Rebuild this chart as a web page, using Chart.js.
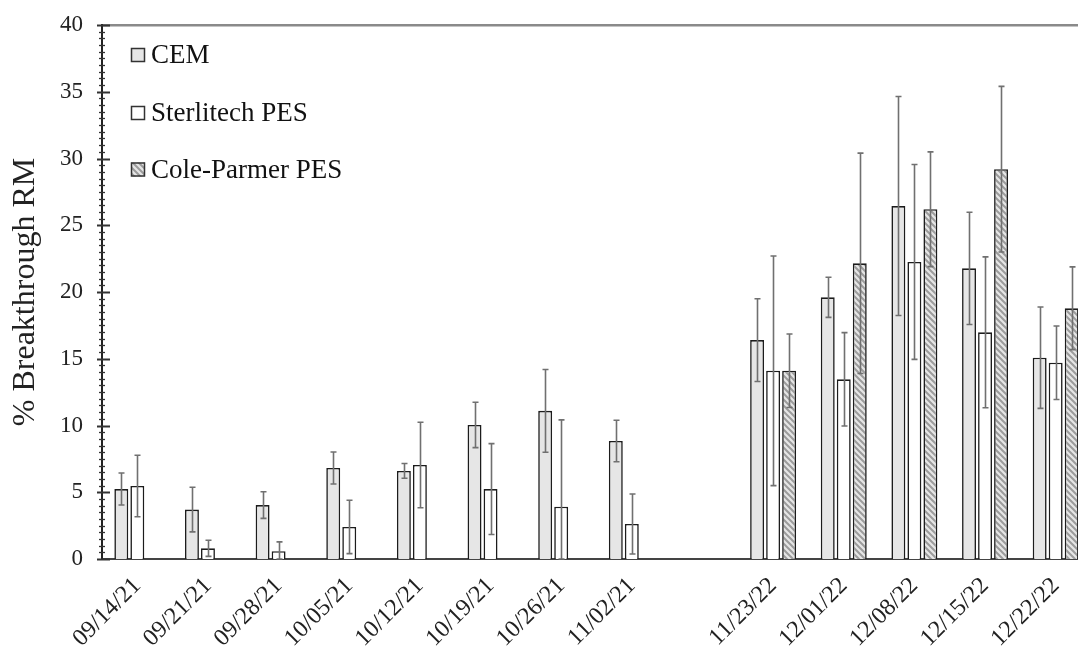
<!DOCTYPE html>
<html>
<head>
<meta charset="utf-8">
<script src="https://cdn.jsdelivr.net/npm/chart.js@4.4.1/dist/chart.umd.min.js"></script>
<style>
  html, body { margin: 0; padding: 0; background: #fff; }
  #wrap { width: 1078px; height: 647px; overflow: hidden; position: relative; }
  canvas { display: block; }
</style>
</head>
<body>
<div id="wrap"><canvas id="c" width="1091" height="647" style="width:1091px;height:647px"></canvas></div>
<script>
// ---- data ----
const categories = ['09/14/21','09/21/21','09/28/21','10/05/21','10/12/21','10/19/21','10/26/21','11/02/21','',
                    '11/23/22','12/01/22','12/08/22','12/15/22','12/22/22'];
const seriesNames = ['CEM', 'Sterlitech PES', 'Cole-Parmer PES'];
const cemValues   = [5.24, 3.7, 4.04, 6.82, 6.6, 10.04, 11.1, 8.84, null, 16.4, 19.6, 26.44, 21.77, 15.08];
const cemErrors   = [1.2, 1.67, 1.0, 1.2, 0.55, 1.7, 3.1, 1.55, null, 3.1, 1.5, 8.2, 4.2, 3.8];
const sterValues  = [5.47, 0.8, 0.58, 2.4, 7.04, 5.24, 3.92, 2.62, null, 14.1, 13.46, 22.25, 16.98, 14.7];
const sterErrors  = [2.3, 0.6, 0.7, 2.0, 3.2, 3.4, 6.5, 2.25, null, 8.6, 3.5, 7.3, 5.65, 2.75];
const coleValues  = [null, null, null, null, null, null, null, null, null, 14.1, 22.15, 26.2, 29.2, 18.78];
const coleErrors  = [null, null, null, null, null, null, null, null, null, 2.75, 8.25, 4.3, 6.2, 3.1];
const yTickValues = [0, 5, 10, 15, 20, 25, 30, 35, 40];
const yTitle = '% Breakthrough RM';

// ---- hatch pattern ----
function makeHatch() {
  const p = document.createElement('canvas');
  p.width = 6; p.height = 6;
  const g = p.getContext('2d');
  g.fillStyle = '#e6e6e6';
  g.fillRect(0, 0, 6, 6);
  g.strokeStyle = '#9c9c9c';
  g.lineWidth = 2;
  g.beginPath();
  g.moveTo(-1, -1); g.lineTo(7, 7);
  g.moveTo(-4, 2); g.lineTo(1, 7);
  g.moveTo(5, -1); g.lineTo(10, 4);
  g.stroke();
  return g.createPattern(p, 'repeat');
}
const ctx = document.getElementById('c').getContext('2d');
const hatch = makeHatch();

const FONT = "'Liberation Serif', 'Times New Roman', serif";

// ---- plugins ----
const errorBars = {
  id: 'errorBars',
  afterDatasetsDraw(chart) {
    const c = chart.ctx;
    const y = chart.scales.y;
    c.save();
    c.strokeStyle = '#707070';
    c.lineWidth = 1.6;
    chart.data.datasets.forEach((ds, di) => {
      const meta = chart.getDatasetMeta(di);
      meta.data.forEach((bar, i) => {
        const v = ds.data[i], e = ds.errors[i];
        if (v == null || e == null) return;
        const x = Math.round(bar.x) + 0.5;
        const yt = y.getPixelForValue(v + e);
        const yb = y.getPixelForValue(Math.max(0, v - e));
        c.beginPath();
        c.moveTo(x, yt); c.lineTo(x, yb);
        c.moveTo(x - 3, yt); c.lineTo(x + 3, yt);
        c.moveTo(x - 3, yb); c.lineTo(x + 3, yb);
        c.stroke();
      });
    });
    c.restore();
  }
};

const yTickMarks = {
  id: 'yTickMarks',
  afterDraw(chart) {
    const c = chart.ctx;
    const y = chart.scales.y;
    const ax = chart.chartArea.left;
    c.save();
    c.strokeStyle = '#333';
    for (let k = 0; k <= 80; k++) {
      const v = k * 0.5;
      const py = Math.round(y.getPixelForValue(v)) + 0.5;
      const major = (k % 10 === 0);
      c.lineWidth = major ? 2 : 1.3;
      c.beginPath();
      if (major) { c.moveTo(ax - 5, py); c.lineTo(ax + 8, py); }
      else { c.moveTo(ax - 3, py); c.lineTo(ax + 3, py); }
      c.stroke();
    }
    c.restore();
  }
};

const insideLegend = {
  id: 'insideLegend',
  afterDraw(chart) {
    const c = chart.ctx;
    const rows = [55, 113, 169.5];
    c.save();
    c.font = '27px ' + FONT;
    c.textBaseline = 'middle';
    c.textAlign = 'left';
    chart.data.datasets.forEach((ds, i) => {
      const cy = rows[i];
      c.fillStyle = ds.backgroundColor;
      c.fillRect(131, cy - 7, 14, 14);
      c.strokeStyle = '#333';
      c.lineWidth = 1.5;
      c.strokeRect(131.5, cy - 6.5, 13, 13);
      c.fillStyle = '#111';
      c.fillText(ds.label, 151, cy + 1);
    });
    c.restore();
  }
};

const common = { borderColor: '#1c1c1c', borderWidth: 1.6, categoryPercentage: 0.68, barPercentage: 0.87 };

new Chart(ctx, {
  type: 'bar',
  data: {
    labels: categories,
    datasets: [
      Object.assign({ label: seriesNames[0], data: cemValues, errors: cemErrors, backgroundColor: '#e6e6e6' }, common),
      Object.assign({ label: seriesNames[1], data: sterValues, errors: sterErrors, backgroundColor: '#ffffff' }, common),
      Object.assign({ label: seriesNames[2], data: coleValues, errors: coleErrors, backgroundColor: hatch }, common)
    ]
  },
  options: {
    responsive: false,
    animation: false,
    devicePixelRatio: 1,
    layout: { padding: { top: 25, right: 0, left: 0, bottom: 0 } },
    plugins: { legend: { display: false }, tooltip: { enabled: false } },
    scales: {
      x: {
        offset: true,
        grid: { display: false },
        border: { display: true, color: '#444', width: 2 },
        ticks: {
          autoSkip: false, maxRotation: 45, minRotation: 45, padding: 5,
          color: '#222', font: { family: FONT, size: 24 }
        },
        afterFit(s) { s.height = 88; s.paddingLeft = 0; s.paddingRight = 0; s.paddingTop = 0; s.paddingBottom = 0; }
      },
      y: {
        min: 0, max: 40,
        afterBuildTicks(s) { s.ticks = yTickValues.map(v => ({ value: v })); },
        grid: {
          drawTicks: false,
          color: (c) => (c.tick && c.tick.value === 40) ? '#8a8a8a' : 'rgba(0,0,0,0)',
          lineWidth: (c) => (c.tick && c.tick.value === 40) ? 2.5 : 0
        },
        border: { display: true, color: '#222', width: 2 },
        ticks: { padding: 19, color: '#222', font: { family: FONT, size: 23 } },
        title: { display: true, text: yTitle, color: '#222', font: { family: FONT, size: 32 }, padding: { top: 6, bottom: 0 } },
        afterFit(s) { s.width = 102; s.paddingTop = 0; s.paddingBottom = 0; s.paddingLeft = 0; s.paddingRight = 0; }
      }
    }
  },
  plugins: [errorBars, yTickMarks, insideLegend]
});
</script>
</body>
</html>
